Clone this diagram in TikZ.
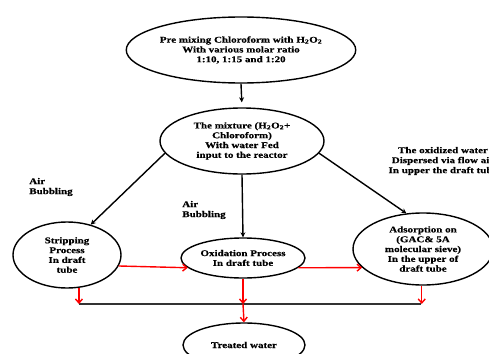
\documentclass[tikz,border=0pt]{standalone}
\usepackage{fontspec}
\setmainfont{Liberation Serif}[FakeStretch=1.25, BoldFeatures={FakeBold=0.5}]
\usetikzlibrary{arrows.meta,shapes.geometric}
\tikzset{
  ell/.style={draw,ellipse,line width=1.4pt,inner sep=0pt,align=center,
    font=\fontsize{8.8}{9.8}\selectfont\bfseries},
  lbl/.style={inner sep=0pt,align=left,font=\fontsize{8.8}{10}\selectfont\bfseries},
  blk/.style={line width=1.4pt,-{Stealth[length=5pt,width=5pt]}},
  redarr/.style={red,line width=1.4pt,-{Straight Barb[length=4pt,width=7pt]}},
}
\begin{document}
\begin{tikzpicture}[x=1pt,y=-1pt]
\useasboundingbox (0,0) rectangle (489,353);
\node[ell,minimum width=212pt,minimum height=66pt] (e1) at (241,50)
  {Pre mixing Chloroform with H\textsubscript{2}O\textsubscript{2}\\With various molar ratio\\1:10, 1:15 and 1:20};
\node[ell,minimum width=164pt,minimum height=66pt] (e2) at (242,141)
  {The mixture (H\textsubscript{2}O\textsubscript{2}+\\Chloroform)\\With water Fed\\input to the reactor};
\node[ell,minimum width=108pt,minimum height=66pt] (strip) at (67,255)
  {Stripping\\Process\\In draft\\tube};
\node[ell,minimum width=124pt,minimum height=40pt] (ox) at (243,258)
  {Oxidation Process\\In draft tube};
\node[ell,minimum width=140pt,minimum height=72pt] (ads) at (423,249)
  {Adsorption on\\(GAC\& 5A\\molecular sieve)\\In the upper of\\draft tube};
\node[ell,minimum width=122pt,minimum height=44pt] (tw) at (244,345)
  {Treated water};
\node[lbl] (ab1) at (51,187) {Air\\Bubbling};
\node[lbl] (ab2) at (204,210) {Air\\Bubbling};
\node[lbl,align=center] (oxw) at (443,161)
  {The oxidized water\\Dispersed via flow air\\In upper the draft tube};
\coordinate (j1) at (79,304);
\coordinate (j2) at (243,304);
\coordinate (j3) at (421,304);
\draw[blk,shorten >=5pt] (e1.south) -- (e2.north);
\draw[blk] (e2.189) -- (strip.52);
\draw[blk] (e2.south) -- (ox.north);
\draw[blk] (e2.351) -- (ads.115);
\draw[redarr] (strip.-12) -- (ox.190);
\draw[redarr] (ox.-10) -- (ads.197);
\draw[line width=1.5pt,black!80] (j1) -- (j3);
\draw[redarr] (strip.-70) -- (strip.-70 |- j1);
\draw[redarr] (ox.south) -- (j2);
\draw[redarr] (ads.-92) -- (ads.-92 |- j3);
\draw[redarr] (j2) -- (tw.north);
\end{tikzpicture}
\end{document}
